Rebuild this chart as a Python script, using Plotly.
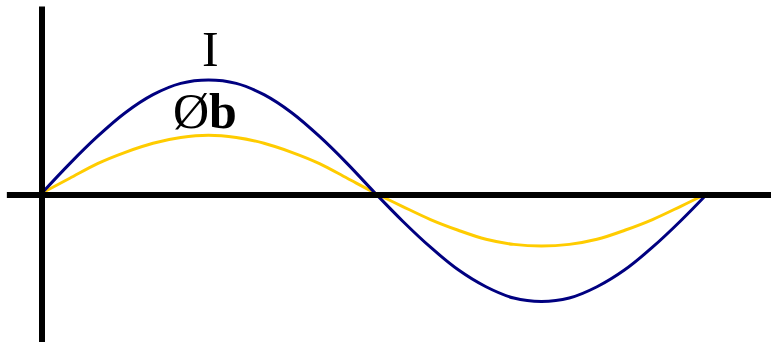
import plotly.graph_objects as go

# Phase angle (degrees) and sampled waveform values over one cycle
phase_deg = [0, 15, 30, 45, 60, 75, 90, 105, 120, 135, 150, 165, 180,
             195, 210, 225, 240, 255, 270, 285, 300, 315, 330, 345, 360]
current_I = [0.0, 0.26, 0.50, 0.71, 0.87, 0.97, 1.00, 0.97, 0.87, 0.71, 0.50, 0.26, 0.0,
             -0.25, -0.48, -0.68, -0.83, -0.93, -0.96, -0.93, -0.83, -0.68, -0.48, -0.25, 0.0]
flux_b = [0.0, 0.13, 0.26, 0.36, 0.44, 0.49, 0.51, 0.49, 0.44, 0.36, 0.26, 0.13, 0.0,
          -0.12, -0.235, -0.33, -0.41, -0.455, -0.47, -0.455, -0.41, -0.33, -0.235, -0.12, 0.0]

NAVY = "#000080"
GOLD = "#FFCC00"

fig = go.Figure()
fig.add_trace(go.Scatter(x=phase_deg, y=flux_b, mode="lines",
                         line=dict(color=GOLD, width=3, shape="spline"),
                         hoverinfo="skip"))
fig.add_trace(go.Scatter(x=phase_deg, y=current_I, mode="lines",
                         line=dict(color=NAVY, width=3, shape="spline"),
                         hoverinfo="skip"))

# Hand-drawn style axes
fig.add_shape(type="line", x0=0, x1=0, y0=1.65, y1=-1.5,
              line=dict(color="black", width=6), layer="above")
fig.add_shape(type="line", x0=-19, x1=420, y0=-0.018, y1=-0.018,
              line=dict(color="black", width=6), layer="above")

serif = "Liberation Serif"
fig.add_annotation(x=91, y=1.27, text="I", showarrow=False,
                   font=dict(family=serif, size=50, color="black"))
fig.add_annotation(x=88, y=0.73, text="Ø<b>b</b>", showarrow=False,
                   font=dict(family=serif, size=50, color="black"))

fig.update_layout(
    width=771, height=342,
    margin=dict(l=0, r=0, t=0, b=0),
    paper_bgcolor="white", plot_bgcolor="white",
    showlegend=False,
    xaxis=dict(range=[-22.7, 394.05], visible=False, fixedrange=True),
    yaxis=dict(range=[-1.319, 1.708], visible=False, fixedrange=True),
)

fig.write_html("out.html")
